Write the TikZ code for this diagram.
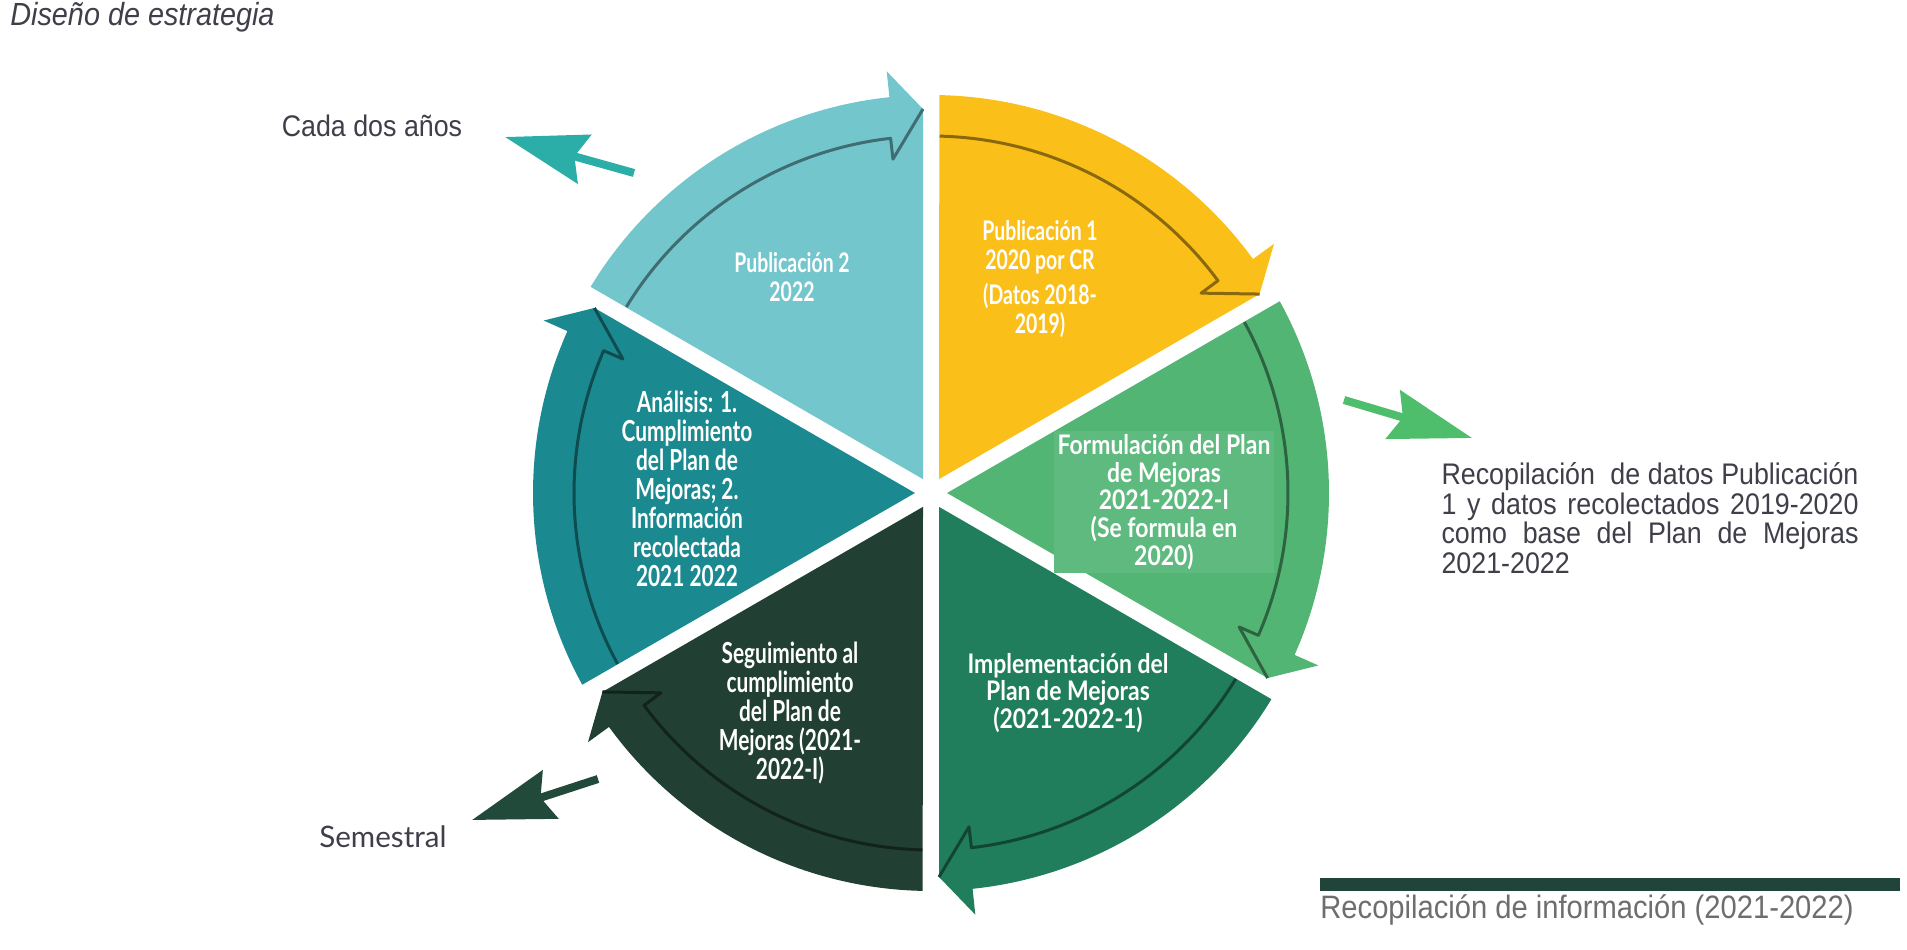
\documentclass[tikz,border=0pt]{standalone}
\usepackage{fontspec}
\setmainfont{Liberation Sans}
\newfontfamily\segfont[FakeStretch=0.72]{Lato}
\newfontfamily\segwide[FakeStretch=0.85]{Lato}
\newfontfamily\narrowfont[FakeStretch=0.9]{Liberation Sans}
\newfontfamily\latofont{Lato}
\usetikzlibrary{arrows.meta,positioning}

\definecolor{pubtwo}{HTML}{74C6CD}
\definecolor{pubone}{HTML}{FBBF1A}
\definecolor{formcol}{HTML}{52B574}
\definecolor{implcol}{HTML}{207E5C}
\definecolor{seguicol}{HTML}{213F33}
\definecolor{analcol}{HTML}{1B8A90}
\definecolor{arrteal}{HTML}{2BADA8}
\definecolor{arrgreen}{HTML}{4EBE6C}
\definecolor{arrdark}{HTML}{214A3A}
\definecolor{txtgray}{HTML}{3F3F4A}
\definecolor{infogray}{HTML}{6E6E6E}
\definecolor{bargreen}{HTML}{21443A}

\begin{document}
\begin{tikzpicture}[
    x=0.5pt, y=0.5pt,
    seg/.style={text=white, align=center, inner sep=2pt, font=\segfont\bfseries\fontsize{14.5}{14.5}\selectfont},
    pubseg/.style={seg, font=\segfont\bfseries\fontsize{13.5}{14.5}\selectfont},
    segsmall/.style={seg, font=\segwide\bfseries\fontsize{13.5}{13.8}\selectfont},
    outer/.style={text=txtgray, inner sep=0pt, font=\narrowfont\fontsize{14.9}{14.75}\selectfont},
    bigarr/.style={line width=4pt, -{Stealth[length=41pt, width=25pt, inset=5pt]}}
]
\useasboundingbox (0,0) rectangle (1907,949);

% wheel: six curved arrow slices
\foreach \ang/\col in {90/pubtwo,30/pubone,-30/formcol,-90/implcol,-150/seguicol,150/analcol}{
  \begin{scope}[shift={(931,456)}, rotate=\ang]
    \fill[\col] (30:16) -- (384,8) -- (6:424) -- (6:398) arc[start angle=6, end angle=58.8, radius=398] -- cycle;
    \draw[\col!55!black, line width=1.5pt, line join=round] (58.6:357) arc[start angle=58.6, end angle=6.5, radius=357] -- (6.5:336) -- (384,8);
  \end{scope}
}

\node[pubseg] (pub2) at (792,672) {Publicación 2\\2022};
\node[pubseg] (pub1) at (1040,670) {Publicación 1\\2020 por CR\\[3pt](Datos 2018-\\2019)};
\node[segsmall, fill=formcol!93!white] (formul) at (1164,447) {Formulación del Plan\\de Mejoras\\2021-2022-I\\(Se formula en\\2020)};
\node[segsmall] (implem) at (1068,256) {Implementación del\\Plan de Mejoras\\(2021-2022-1)};
\node[seg] (seguim) at (790,236) {Seguimiento al\\cumplimiento\\del Plan de\\Mejoras (2021-\\2022-I)};
\node[seg] (analis) at (687,460) {Análisis: 1.\\Cumplimiento\\del Plan de\\Mejoras; 2.\\Información\\recolectada\\2021 2022};

% labels outside the wheel
\node[outer, anchor=west, font=\narrowfont\itshape\fontsize{16}{16}\selectfont] (titulo) at (10,932) {Diseño de estrategia};
\node[outer] (cada) at (372,823) {Cada dos años};
\node[outer, text width=208.5pt, align=justify] (recop) at (1650,431) {Recopilación\ \ de datos Publicación\linebreak 1 y datos recolectados 2019-2020\linebreak como base del Plan de Mejoras\linebreak 2021-2022};
\node[outer, font=\latofont\fontsize{14.8}{15}\selectfont] (semes) at (383,112) {Semestral};
\fill[bargreen] (1320,58) rectangle (1900,71);
\node[outer, anchor=west, text=infogray, font=\narrowfont\fontsize{16.2}{17}\selectfont] (recinfo) at (1320,39) {Recopilación de información (2021-2022)};

\coordinate (cadatail) at (634,776);
\coordinate (cadatip) at (505,812);
\coordinate (recoptail) at (1344,549);
\coordinate (recoptip) at (1472,511);
\coordinate (semestail) at (598,170);
\coordinate (semestip) at (472,129);
\draw[bigarr, arrteal] (cadatail) -- (cadatip);
\draw[bigarr, arrgreen] (recoptail) -- (recoptip);
\draw[bigarr, arrdark] (semestail) -- (semestip);
\end{tikzpicture}
\end{document}
